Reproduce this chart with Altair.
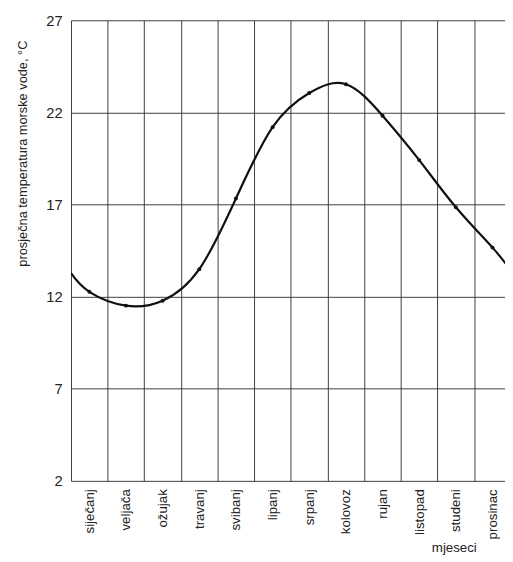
import altair as alt
import pandas as pd

months = ["siječanj", "veljača", "ožujak", "travanj", "svibanj", "lipanj",
          "srpanj", "kolovoz", "rujan", "listopad", "studeni", "prosinac"]
temps = [12.26, 11.51, 11.78, 13.49, 17.33, 21.2, 23.05, 23.53, 21.82, 19.41, 16.85, 14.66]
# curve values read at the left frame and just past the right edge
curve_start = 13.27
curve_end = 13.4
y_ticks = [2, 7, 12, 17, 22, 27]

pts = pd.DataFrame({"pos": [i + 0.5 for i in range(len(months))], "temp": temps, "month": months})
curve = pd.DataFrame({"pos": [0.0] + list(pts["pos"]) + [12.0],
                      "temp": [curve_start] + temps + [curve_end]})

x_vals = [i * 0.5 for i in range(24)]
half_labels = []
for m in months:
    half_labels += ["", m]
label_expr = "[" + ",".join("'" + s + "'" for s in half_labels) + "][round(datum.value * 2)]"

FONT = "Liberation Sans"
GRID = "#3c3c3c"

x_scale = alt.Scale(domain=[0, 11.84], nice=False, zero=False)
y_scale = alt.Scale(domain=[2, 27], nice=False, zero=False)

x_axis = alt.Axis(
    values=x_vals, labelExpr=label_expr, grid=True, gridColor=GRID, gridWidth=1,
    gridOpacity={"condition": {"test": "round(datum.value * 2) % 2 == 0", "value": 1}, "value": 0},
    ticks=False, domain=False, labelAngle=270, labelAlign="right", labelBaseline="middle",
    labelPadding=8, labelOverlap=False, labelBound=False, labelFlush=False, labelFontSize=13.5,
    title="mjeseci", titleX=389, titleY=72, titleAlign="center", titleBaseline="alphabetic",
    titleFontSize=13.5,
)
y_axis = alt.Axis(
    values=y_ticks, grid=True, gridColor=GRID, gridWidth=1, ticks=False, domain=False,
    labelPadding=9, labelBaseline="middle", labelFontSize=15,
    title="prosječna temperatura morske vode, °C", titleAngle=270, titleX=-49, titleY=135,
    titleAlign="center", titleBaseline="middle", titleFontSize=13,
)

line = alt.Chart(curve).mark_line(interpolate="natural", color="#111", strokeWidth=2.2, clip=True).encode(
    x=alt.X("pos:Q", scale=x_scale, axis=x_axis),
    y=alt.Y("temp:Q", scale=y_scale, axis=y_axis),
    order="pos:Q",
)
dots = alt.Chart(pts).mark_circle(color="#111", size=16, opacity=1).encode(
    x=alt.X("pos:Q", scale=x_scale, axis=x_axis),
    y=alt.Y("temp:Q", scale=y_scale, axis=y_axis),
)

chart = alt.layer(line, dots).properties(
    width=441, height=468,
    autosize=alt.AutoSizeParams(type="none"),
    padding={"left": 64, "top": 8, "right": 0, "bottom": 80},
    background="white",
).configure_view(stroke=None).configure_axis(
    labelFont=FONT, titleFont=FONT,
    labelColor="#222", titleColor="#222", titleFontWeight="normal",
)

chart.save("out.html", embed_options={"renderer": "svg", "actions": False})
